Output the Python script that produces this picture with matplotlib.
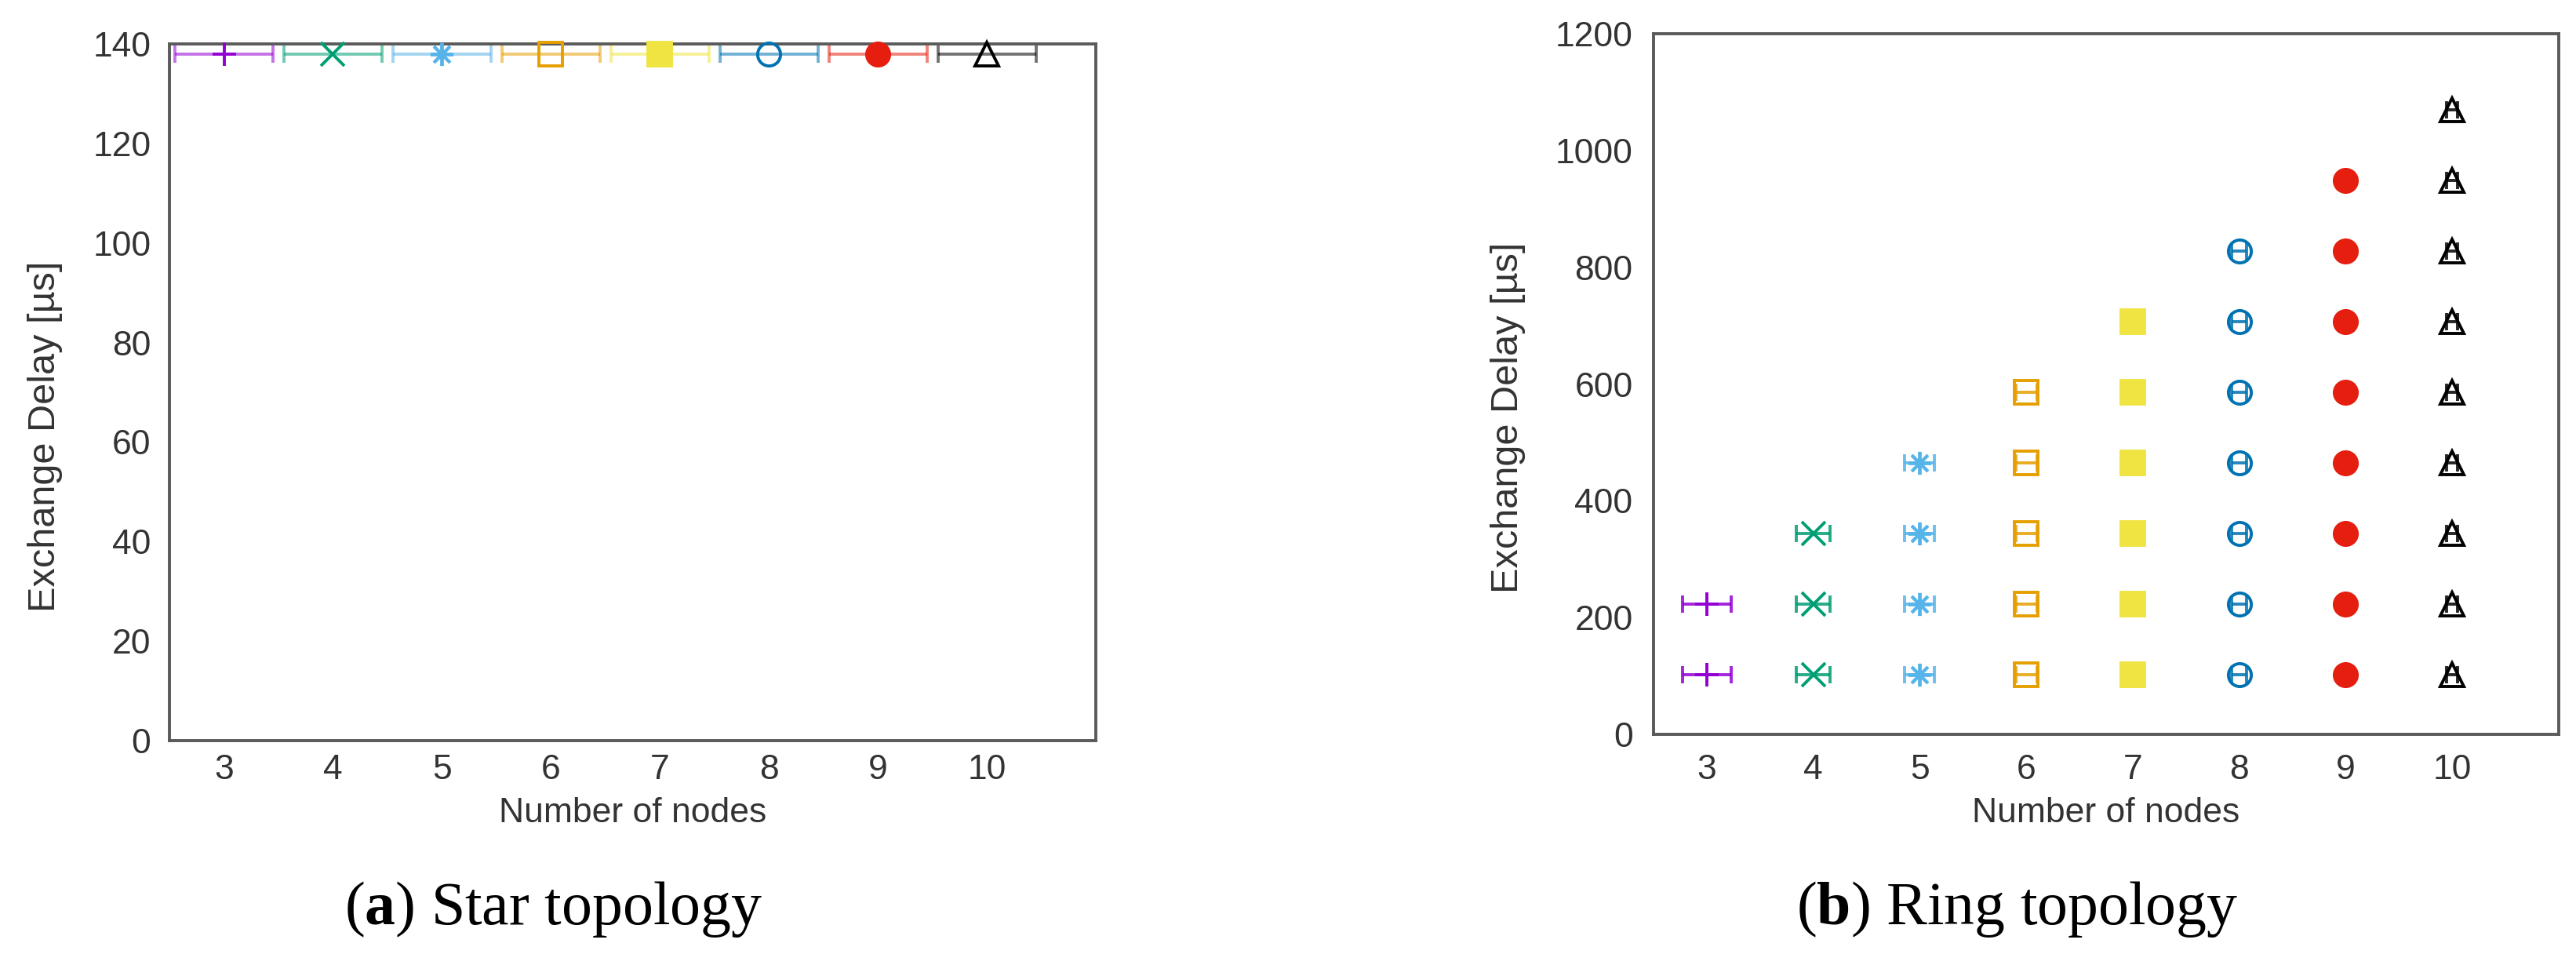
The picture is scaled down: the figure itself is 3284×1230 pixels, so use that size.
import matplotlib
matplotlib.use("Agg")
import matplotlib.pyplot as plt

# number of nodes on the x axis
nodes = [3, 4, 5, 6, 7, 8, 9, 10]

# star topology: one delay value per node count, with x error bars
star_delay = [138, 138, 138, 138, 138, 138, 138, 138]
star_xerr = [0.45, 0.45, 0.45, 0.45, 0.45, 0.45, 0.45, 0.45]

# ring topology: several exchange delays per node count
ring_delay = [
    [102, 223],
    [102, 223, 344],
    [102, 223, 344, 465],
    [102, 223, 344, 465, 586],
    [102, 223, 344, 465, 586, 707],
    [102, 223, 344, 465, 586, 707, 828],
    [102, 223, 344, 465, 586, 707, 828, 949],
    [102, 223, 344, 465, 586, 707, 828, 949, 1070],
]
ring_xerr = [0.23, 0.16, 0.14, 0.10, 0.08, 0.07, 0.06, 0.05]

# gnuplot default line colours and point types
colors = ["#9400d3", "#009e73", "#56b4e9", "#e69f00",
          "#f0e442", "#0072b2", "#e51e10", "#000000"]
markers = ["+", "x", (8, 2, 0), "s", "s", "o", "o", "^"]
filled = [True, True, True, False, True, False, True, False]

TEXT = "#333333"
plt.rcParams["font.family"] = ["Liberation Sans", "DejaVu Sans"]
plt.rcParams["mathtext.fontset"] = "custom"
plt.rcParams["mathtext.rm"] = "Liberation Serif"
plt.rcParams["mathtext.bf"] = "Liberation Serif:bold"

fig = plt.figure(figsize=(32.84, 12.30), dpi=100)
ax_star = fig.add_axes([0.0658, 0.2325, 0.3596, 0.722])
ax_ring = fig.add_axes([0.6419, 0.239, 0.3514, 0.726])


def draw_point(ax, x, y, xerr, i, err_alpha):
    ax.errorbar(x, y, xerr=xerr, fmt="none", ecolor=colors[i],
                elinewidth=2.8, capsize=8, capthick=2.8, alpha=err_alpha,
                zorder=3, clip_on=False)
    face = colors[i] if filled[i] else "none"
    ax.plot(x, y, linestyle="none", marker=markers[i], markersize=21,
            markerfacecolor=face, markeredgecolor=colors[i],
            markeredgewidth=2.8, zorder=4, clip_on=False)


for i, n in enumerate(nodes):
    draw_point(ax_star, [n], [star_delay[i]], [star_xerr[i]], i, 0.55)
    ys = ring_delay[i]
    draw_point(ax_ring, [n] * len(ys), ys, [ring_xerr[i]] * len(ys), i, 0.85)

ax_star.set_ylim(0, 140)
ax_star.set_yticks(range(0, 141, 20))
ax_ring.set_ylim(0, 1200)
ax_ring.set_yticks(range(0, 1201, 200))

for ax, xpad, ypad in [(ax_star, 12, 17), (ax_ring, 18, 19)]:
    ax.set_xlim(2.5, 11)
    ax.set_xticks(nodes)
    ax.tick_params(axis="x", length=0, pad=xpad, labelsize=32, labelcolor=TEXT)
    ax.tick_params(axis="y", length=0, pad=ypad, labelsize=32, labelcolor=TEXT)
    for s in ax.spines.values():
        s.set_color("#5a5a5a")
        s.set_linewidth(2.8)

ax_star.set_xlabel("Number of nodes", fontsize=32, color=TEXT, va="center")
ax_star.xaxis.set_label_coords(0.5, -0.1046)
ax_ring.set_xlabel("Number of nodes", fontsize=32, color=TEXT, va="center")
ax_ring.xaxis.set_label_coords(0.5, -0.113)
ax_star.set_ylabel("Exchange Delay [µs]", fontsize=35, color=TEXT, va="center")
ax_star.yaxis.set_label_coords(-0.1346, 0.437)
ax_ring.set_ylabel("Exchange Delay [µs]", fontsize=35, color=TEXT, va="center")
ax_ring.yaxis.set_label_coords(-0.161, 0.452)

# sub-figure captions
cap = dict(fontsize=56, family=["Liberation Serif", "DejaVu Serif"],
           ha="center", va="center", color="black")
fig.text(0.2147, 0.0575, r"($\mathbf{a}$) Star topology", **cap)
fig.text(0.7832, 0.0575, r"($\mathbf{b}$) Ring topology", **cap)

fig.savefig("out.png", dpi=100, facecolor="white")
